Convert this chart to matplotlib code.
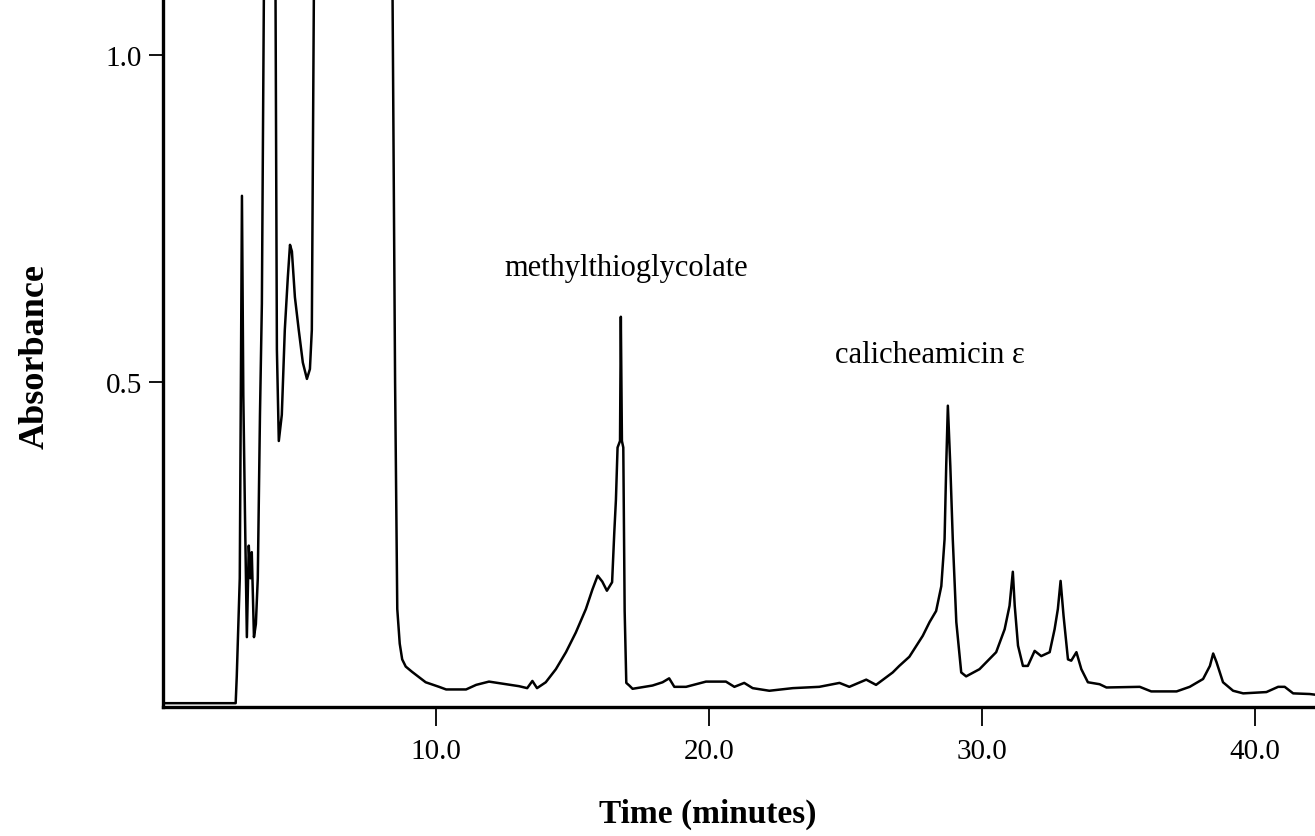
import matplotlib
matplotlib.use("Agg")
import matplotlib.pyplot as plt

# Chromatogram trace (time in minutes, absorbance)
time_min = [
    0.03, 2.66, 2.70, 2.81, 2.89, 2.94, 3.00, 3.07, 3.14, 3.20, 3.25, 3.33,
    3.40, 3.47, 3.55, 3.62, 3.71, 3.90, 4.11, 4.17, 4.24, 4.35, 4.46, 4.57,
    4.65, 4.72, 4.83, 4.97, 5.12, 5.27, 5.38, 5.45, 5.54, 7.00, 8.39, 8.50,
    8.58, 8.67, 8.76, 8.89, 9.12, 9.62, 10.11, 10.37, 11.10, 11.47, 11.94,
    12.56, 13.04, 13.34, 13.53, 13.70, 14.02, 14.39, 14.76, 15.12, 15.49,
    15.73, 15.92, 16.09, 16.26, 16.45, 16.53, 16.59, 16.65, 16.74, 16.77,
    16.81, 16.86, 16.91, 16.97, 17.08, 17.20, 17.93, 18.30, 18.54, 18.73,
    19.16, 19.89, 20.62, 20.93, 21.29, 21.60, 22.21, 23.07, 24.04, 24.78,
    25.14, 25.76, 26.12, 26.73, 26.97, 27.34, 27.83, 28.08, 28.32, 28.51,
    28.63, 28.69, 28.75, 28.84, 28.93, 29.06, 29.24, 29.42, 29.91, 30.52,
    30.83, 31.01, 31.13, 31.20, 31.32, 31.50, 31.68, 31.93, 32.17, 32.48,
    32.66, 32.78, 32.88, 32.99, 33.15, 33.27, 33.46, 33.64, 33.88, 34.31,
    34.56, 35.78, 36.20, 37.13, 37.61, 38.10, 38.35, 38.47, 38.59, 38.83,
    39.20, 39.57, 40.42, 40.85, 41.09, 41.40, 42.01, 42.20,
]
absorbance = [
    0.009, 0.009, 0.05, 0.20, 0.785, 0.48, 0.30, 0.11, 0.25, 0.20, 0.24, 0.11,
    0.13, 0.20, 0.45, 0.62, 1.20, 1.60, 1.20, 0.55, 0.41, 0.45, 0.58, 0.66,
    0.71, 0.70, 0.63, 0.58, 0.53, 0.505, 0.52, 0.58, 1.20, 2.00, 1.20, 0.50,
    0.153, 0.100, 0.076, 0.065, 0.057, 0.041, 0.034, 0.030, 0.030, 0.037,
    0.042, 0.038, 0.035, 0.032, 0.043, 0.032, 0.041, 0.061, 0.087, 0.117,
    0.153, 0.183, 0.204, 0.195, 0.181, 0.194, 0.27, 0.32, 0.40, 0.41, 0.60,
    0.41, 0.40, 0.15, 0.040, 0.036, 0.031, 0.036, 0.041, 0.047, 0.034,
    0.034, 0.042, 0.042, 0.034, 0.040, 0.032, 0.028, 0.032, 0.034, 0.040,
    0.034, 0.045, 0.037, 0.056, 0.066, 0.080, 0.112, 0.133, 0.150, 0.188,
    0.26, 0.372, 0.464, 0.372, 0.26, 0.133, 0.056, 0.050, 0.061, 0.087,
    0.122, 0.158, 0.210, 0.158, 0.097, 0.066, 0.066, 0.089, 0.081, 0.087,
    0.122, 0.153, 0.196, 0.142, 0.076, 0.074, 0.087, 0.061, 0.041, 0.038,
    0.033, 0.034, 0.027, 0.027, 0.034, 0.046, 0.066, 0.085, 0.072, 0.041,
    0.028, 0.024, 0.026, 0.034, 0.034, 0.024, 0.023, 0.022,
]

x_ticks = [10.0, 20.0, 30.0, 40.0]
y_ticks = [0.5, 1.0]

# Peak labels
labels = ["methylthioglycolate", "calicheamicin \u03b5"]
label_x = [16.95, 28.1]
label_y = [0.676, 0.543]

plt.rcParams["font.family"] = ["Liberation Serif", "DejaVu Serif"]

fig = plt.figure(figsize=(13.15, 8.37), dpi=100)
ax = fig.add_axes([0.124, 0.154, 0.876, 0.846])

ax.plot(time_min, absorbance, color="black", linewidth=1.8)

for txt, lx, ly in zip(labels, label_x, label_y):
    ax.text(lx, ly, txt, ha="center", va="center", fontsize=22)

ax.set_xlim(0.0, 42.2)
ax.set_ylim(0.003, 1.086)
ax.set_xticks(x_ticks)
ax.set_xticklabels([f"{v:.1f}" for v in x_ticks])
ax.set_yticks(y_ticks)
ax.set_yticklabels([f"{v:.1f}" for v in y_ticks])

ax.spines["top"].set_visible(False)
ax.spines["right"].set_visible(False)
ax.spines["left"].set_linewidth(2.4)
ax.spines["bottom"].set_linewidth(2.4)
ax.tick_params(axis="x", direction="out", length=14, width=1.3, labelsize=21, pad=8)
ax.tick_params(axis="y", direction="out", length=10, width=1.3, labelsize=21, pad=5)

ax.set_xlabel("Time (minutes)", fontsize=24, fontweight="bold")
ax.set_ylabel("Absorbance", fontsize=26, fontweight="bold")
ax.xaxis.set_label_coords(0.473, -0.128)
ax.yaxis.set_label_coords(-0.097, 0.497)

fig.savefig("out.png", dpi=100)
